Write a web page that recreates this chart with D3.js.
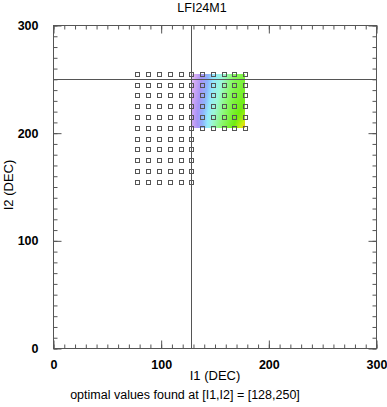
<!DOCTYPE html>
<html><head><meta charset="utf-8">
<script src="https://cdn.jsdelivr.net/npm/d3@7"></script>
<style>body{margin:0;background:#fff}svg{display:block}text{font-family:"Liberation Sans",Arial,sans-serif;fill:#000}</style>
</head><body>
<svg id="c" width="387" height="407"></svg>
<script>
const title = "LFI24M1";
const xLabel = "I1 (DEC)";
const yLabel = "I2 (DEC)";
const footer = "optimal values found at [I1,I2] = [128,250]";
const xTicks = [0, 100, 200, 300];
const yTicks = [0, 100, 200, 300];
const optimum = [128, 250];
// grid-search points: upper block (full width) and lower block
const upperX = [78, 88, 98, 108, 118, 128, 138, 148, 158, 168, 178];
const upperY = [205, 215, 225, 235, 245, 255];
const lowerX = [78, 88, 98, 108, 118, 128];
const lowerY = [155, 165, 175, 185, 195];
// colored value field over x 128..178, y 255..205 (rows top to bottom)
const fieldX = [128, 138, 148, 158, 168, 178];
const fieldY = [255, 245, 235, 225, 215, 205];
const fieldZ = [
  [0.04, 0.30, 0.50, 0.62, 0.74, 0.78],
  [0.08, 0.32, 0.52, 0.65, 0.76, 0.80],
  [0.11, 0.35, 0.55, 0.68, 0.78, 0.82],
  [0.14, 0.38, 0.59, 0.70, 0.80, 0.85],
  [0.15, 0.41, 0.62, 0.72, 0.82, 0.90],
  [0.13, 0.40, 0.64, 0.75, 0.85, 1.00]
];
const colorStops = [0, 0.15, 0.3, 0.42, 0.52, 0.62, 0.72, 0.84, 0.93, 1.0];
const colorVals = ["#f2e4fc", "#d4aaf4", "#a894f6", "#8eb4fc", "#94e8fc", "#9cf8d8", "#8cf870", "#70ec10", "#ccee10", "#ffb410"];

const svg = d3.select("#c");
const L = 53.5, R = 376.5, T = 25.5, B = 348.5;
const xs = d3.scaleLinear().domain([0, 300]).range([L, R]);
const ys = d3.scaleLinear().domain([0, 300]).range([B, T]);
const col = d3.scaleLinear().domain(colorStops).range(colorVals).interpolate(d3.interpolateRgb).clamp(true);
const axisColor = "#555";

// field image
{
  const px0 = Math.round(xs(fieldX[0])), px1 = Math.round(xs(fieldX[fieldX.length-1]));
  const py0 = Math.round(ys(fieldY[0])), py1 = Math.round(ys(fieldY[fieldY.length-1]));
  const w = px1 - px0, h = py1 - py0;
  const cv = document.createElement("canvas"); cv.width = w; cv.height = h;
  const ctx = cv.getContext("2d");
  const img = ctx.createImageData(w, h);
  const nx = fieldX.length, ny = fieldY.length;
  for (let j = 0; j < h; j++) {
    const fy = (j + 0.5) / h * (ny - 1);
    const j0 = Math.min(Math.floor(fy), ny - 2), ty = fy - j0;
    for (let i = 0; i < w; i++) {
      const fx = (i + 0.5) / w * (nx - 1);
      const i0 = Math.min(Math.floor(fx), nx - 2), tx = fx - i0;
      const z = (1-ty)*((1-tx)*fieldZ[j0][i0] + tx*fieldZ[j0][i0+1]) + ty*((1-tx)*fieldZ[j0+1][i0] + tx*fieldZ[j0+1][i0+1]);
      const c = d3.rgb(col(z));
      const k = (j*w + i)*4;
      img.data[k] = c.r; img.data[k+1] = c.g; img.data[k+2] = c.b; img.data[k+3] = 255;
    }
  }
  ctx.putImageData(img, 0, 0);
  svg.append("image").attr("x", px0).attr("y", py0).attr("width", w).attr("height", h)
    .attr("href", cv.toDataURL());
}

// optimum cross lines
svg.append("line").attr("x1", L).attr("x2", R).attr("y1", Math.round(ys(optimum[1]))+0.5).attr("y2", Math.round(ys(optimum[1]))+0.5)
  .attr("stroke", axisColor).attr("stroke-width", 1);
svg.append("line").attr("y1", T).attr("y2", B).attr("x1", Math.round(xs(optimum[0]))+0.5).attr("x2", Math.round(xs(optimum[0]))+0.5)
  .attr("stroke", axisColor).attr("stroke-width", 1);

// grid points
const pts = [];
upperY.forEach(y => upperX.forEach(x => pts.push([x, y])));
lowerY.forEach(y => lowerX.forEach(x => pts.push([x, y])));
svg.append("g").selectAll("rect").data(pts).join("rect")
  .attr("x", d => Math.round(xs(d[0])) - 2 + 0.5).attr("y", d => Math.round(ys(d[1])) - 2 + 0.5)
  .attr("width", 4).attr("height", 4).attr("fill", "none").attr("stroke", "#555").attr("stroke-width", 1);

// axes with inward ticks
const minor = d3.range(0, 301, 10);
function axisG(axis, tr) {
  const g = svg.append("g").attr("transform", tr).call(axis);
  g.select(".domain").remove();
  g.selectAll("line").attr("stroke", axisColor);
  return g;
}
// bottom
axisG(d3.axisBottom(xs).tickValues(minor).tickSize(-4).tickFormat(""), `translate(0,${B})`);
const gb = axisG(d3.axisBottom(xs).tickValues(xTicks).tickSize(-8).tickPadding(12).tickFormat(d3.format("d")), `translate(0,${B})`);
gb.selectAll("text").attr("font-size", 12.5).attr("font-weight", "bold").attr("font-family", "Liberation Sans, Arial, sans-serif");
// top
axisG(d3.axisTop(xs).tickValues(minor).tickSize(-4).tickFormat(""), `translate(0,${T})`);
axisG(d3.axisTop(xs).tickValues(xTicks).tickSize(-8).tickFormat(""), `translate(0,${T})`);
// left
axisG(d3.axisLeft(ys).tickValues(minor).tickSize(-4).tickFormat(""), `translate(${L},0)`);
const gl = axisG(d3.axisLeft(ys).tickValues(yTicks).tickSize(-8).tickPadding(15).tickFormat(d3.format("d")), `translate(${L},0)`);
gl.selectAll("text").attr("font-size", 12.5).attr("font-weight", "bold").attr("font-family", "Liberation Sans, Arial, sans-serif");
// right
axisG(d3.axisRight(ys).tickValues(minor).tickSize(-4).tickFormat(""), `translate(${R},0)`);
axisG(d3.axisRight(ys).tickValues(yTicks).tickSize(-8).tickFormat(""), `translate(${R},0)`);

svg.append("rect").attr("x", L).attr("y", T).attr("width", R - L).attr("height", B - T)
  .attr("fill", "none").attr("stroke", axisColor).attr("stroke-width", 1);

// texts
svg.append("text").attr("x", 202).attr("y", 12).attr("text-anchor", "middle").attr("font-size", 12.5).text(title);
svg.append("text").attr("x", (L + R) / 2).attr("y", 380).attr("text-anchor", "middle").attr("font-size", 13).text(xLabel);
svg.append("text").attr("transform", `translate(13,${(T + B) / 2 - 2}) rotate(-90)`).attr("text-anchor", "middle").attr("font-size", 13).text(yLabel);
svg.append("text").attr("x", 185).attr("y", 399).attr("text-anchor", "middle").attr("font-size", 12.5).text(footer);
</script>
</body></html>
